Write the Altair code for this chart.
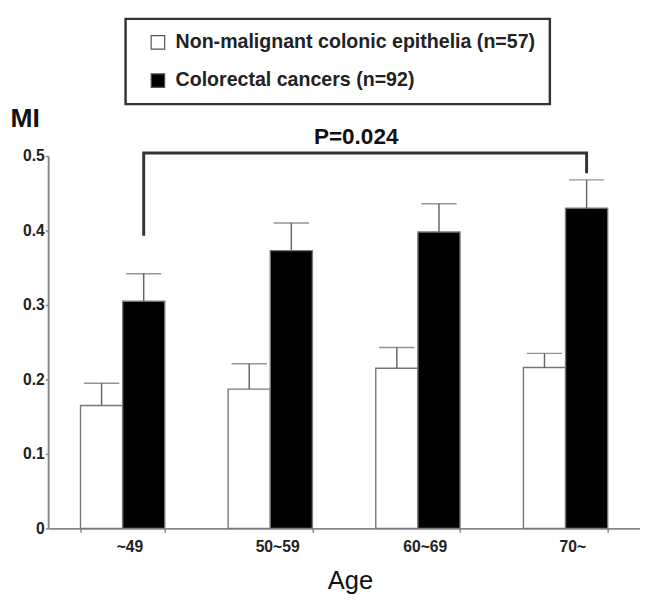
import altair as alt
import pandas as pd

ages = ["~49", "50~59", "60~69", "70~"]
series = ["Non-malignant colonic epithelia (n=57)", "Colorectal cancers (n=92)"]
normal_mean = [0.165, 0.187, 0.215, 0.216]
normal_upper = [0.195, 0.221, 0.243, 0.235]
cancer_mean = [0.305, 0.373, 0.398, 0.430]
cancer_upper = [0.342, 0.410, 0.436, 0.468]

# significance bracket: path left-bottom -> left-top -> right-top -> right-bottom
bracket_ages = ["~49", "~49", "70~", "70~"]
bracket_vals = [0.393, 0.504, 0.504, 0.477]
p_label = "P=0.024"
p_label_y = 0.526
y_ticks = [0, 0.1, 0.2, 0.3, 0.4, 0.5]

FONT = "Liberation Sans"

rows = []
for i, a in enumerate(ages):
    rows.append({"age": a, "series": series[0], "mean": normal_mean[i], "upper": normal_upper[i]})
    rows.append({"age": a, "series": series[1], "mean": cancer_mean[i], "upper": cancer_upper[i]})
df = pd.DataFrame(rows)

bracket = pd.DataFrame({
    "age": bracket_ages,
    "series": [series[1]] * len(bracket_ages),
    "val": bracket_vals,
    "order": list(range(len(bracket_ages))),
})
ptext = pd.DataFrame({"age": ["60~69"], "label": [p_label], "y": [p_label_y]})

x_enc = alt.X(
    "age:N", sort=ages,
    scale=alt.Scale(domain=ages, paddingInner=0.4293, paddingOuter=0.219),
    axis=alt.Axis(
        title="Age", labelAngle=0, tickBand="extent", grid=False,
        labelFont=FONT, labelFontSize=16, labelFontWeight="bold", labelColor="#222",
        labelPadding=7, labelOffset=7, tickSize=4, tickColor="#888", tickWidth=1.5,
        domainColor="#888", domainWidth=2,
        titleFont=FONT, titleFontSize=26, titleFontWeight="normal", titleColor="#111",
        titlePadding=13, titleX=308,
    ),
)
xoff_enc = alt.XOffset("series:N", sort=series,
                       scale=alt.Scale(domain=series, paddingInner=0, paddingOuter=0))
y_scale = alt.Scale(domain=[0, 0.5], nice=False, zero=True)
y_axis = alt.Axis(
    values=y_ticks, format="~g", grid=False, title="MI",
    titleAngle=0, titleAlign="left", titleBaseline="alphabetic",
    titleX=-39, titleY=-30, titleFont=FONT, titleFontSize=27, titleFontWeight="bold",
    titleColor="#111",
    labelFont=FONT, labelFontSize=16, labelFontWeight="bold", labelColor="#222",
    labelPadding=1, tickSize=3, tickColor="#888", tickWidth=1.5,
    domainColor="#888", domainWidth=2,
)

base = alt.Chart(df).encode(x=x_enc, xOffset=xoff_enc)

bars = base.mark_bar(stroke="#777", strokeWidth=1.4).encode(
    y=alt.Y("mean:Q", scale=y_scale, axis=y_axis),
    color=alt.Color(
        "series:N", sort=series,
        scale=alt.Scale(domain=series, range=["white", "black"]),
        legend=alt.Legend(
            title=None, orient="none", legendX=79, legendY=-140, direction="vertical",
            symbolType="square", symbolSize=190, symbolStrokeColor="#555",
            symbolStrokeWidth=1.2, symbolOffset=9,
            labelFont=FONT, labelFontSize=20, labelFontWeight="bold", labelColor="#222",
            labelOffset=8, labelLimit=600, rowPadding=19, padding=14,
            strokeColor="#333", fillColor="white",
        ),
    ),
)

err = base.mark_rule(color="#666", strokeWidth=1.5).encode(
    y="mean:Q", y2="upper:Q"
)
caps = base.mark_tick(color="#666", thickness=1.5, size=36).encode(
    y="upper:Q"
)

bracket_line = alt.Chart(bracket).mark_line(color="#333", strokeWidth=3,
                                            strokeJoin="miter").encode(
    x=alt.X("age:N", sort=ages),
    xOffset=alt.XOffset("series:N", sort=series),
    y="val:Q",
    order="order:Q",
)
ptxt = alt.Chart(ptext).mark_text(
    font=FONT, fontSize=23, fontWeight="bold", color="#111",
    baseline="middle", align="center", dx=-20,
).encode(
    x=alt.X("age:N", sort=ages, bandPosition=0),
    y="y:Q",
    text="label:N",
)

chart = alt.layer(bars, err, caps, bracket_line, ptxt).properties(
    width=604, height=380,
    padding={"left": 2, "top": 3, "right": 0, "bottom": 0},
).configure(
    background="white",
    view=alt.ViewConfig(stroke=None),
    legend=alt.LegendConfig(strokeWidth=2.5),
)

chart.save("out.html", embed_options={"renderer": "svg", "actions": False})
